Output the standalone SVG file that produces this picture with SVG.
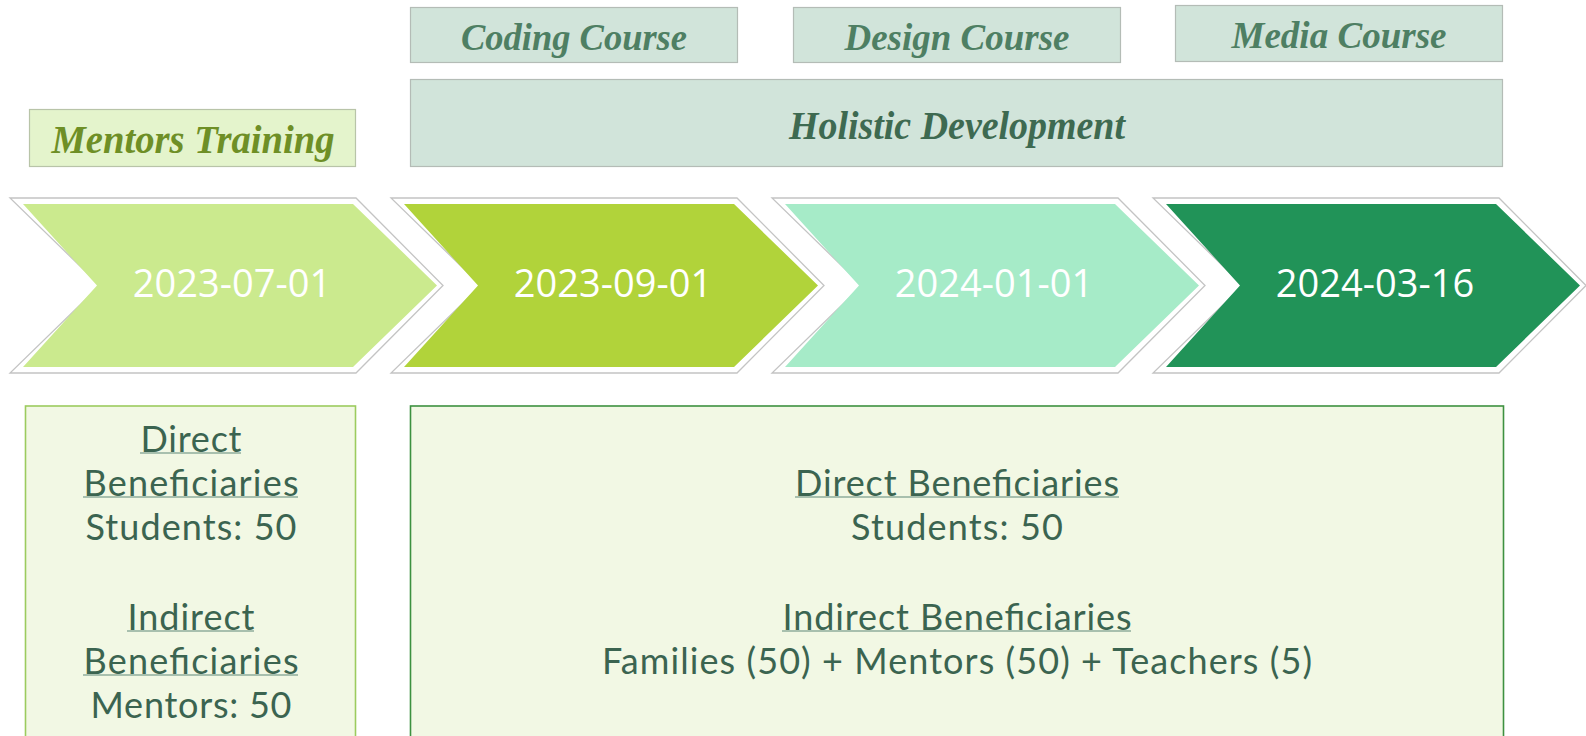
<svg xmlns="http://www.w3.org/2000/svg" width="1586" height="736" viewBox="0 0 1586 736">
<style>
.hdr{fill:#d1e4da;stroke:#b4bcb6;stroke-width:1.2}
.scr{font-family:'Liberation Serif',serif;font-style:italic;font-weight:bold;text-anchor:middle}
.outer{fill:#ffffff;stroke:#c4c4c4;stroke-width:1.3}
.date{font-family:'Open Sans','Noto Sans',sans-serif;font-size:38px;fill:#ffffff;text-anchor:middle}
.body{font-family:Lato,'Open Sans',sans-serif;font-size:36px;fill:#3b6450;text-anchor:middle}
.ul{stroke:#8fae9c;stroke-width:1.3}
</style>
<rect width="1586" height="736" fill="#ffffff"/>
<g id="coding-course">
<rect class="hdr" x="410.5" y="7.5" width="327" height="55"/>
<text class="scr" x="574" y="50" font-size="38" fill="#4e7f63" textLength="226" lengthAdjust="spacingAndGlyphs">Coding Course</text>
</g>
<g id="design-course">
<rect class="hdr" x="793.5" y="7.5" width="327" height="55"/>
<text class="scr" x="957" y="50" font-size="38" fill="#4e7f63" textLength="225" lengthAdjust="spacingAndGlyphs">Design Course</text>
</g>
<g id="media-course">
<rect class="hdr" x="1175.5" y="5.5" width="327" height="56"/>
<text class="scr" x="1339" y="48" font-size="38" fill="#4e7f63" textLength="215" lengthAdjust="spacingAndGlyphs">Media Course</text>
</g>
<g id="holistic-development">
<rect class="hdr" x="410.5" y="79.5" width="1092" height="87"/>
<text class="scr" x="957" y="139" font-size="40" fill="#3e6a51" textLength="336" lengthAdjust="spacingAndGlyphs">Holistic Development</text>
</g>
<g id="mentors-training">
<rect x="29.5" y="109.5" width="326" height="57" fill="#e4f4cc" stroke="#b8c4a8" stroke-width="1.2"/>
<text class="scr" x="193" y="153" font-size="40" fill="#6e8f26" textLength="283" lengthAdjust="spacingAndGlyphs">Mentors Training</text>
</g>
<g id="chevron-1">
<polygon class="outer" points="10,198 356,198 443,285.5 356,373 10,373 100,285.5"/>
<polygon fill="#cbea8e" points="23,204 353,204 437,285.5 353,367 23,367 97,285.5"/>
<text class="date" x="232" y="297">2023-07-01</text>
</g>
<g id="chevron-2">
<polygon class="outer" points="391,198 737,198 824,285.5 737,373 391,373 481,285.5"/>
<polygon fill="#b1d33a" points="404,204 734,204 818,285.5 734,367 404,367 478,285.5"/>
<text class="date" x="613" y="297">2023-09-01</text>
</g>
<g id="chevron-3">
<polygon class="outer" points="772,198 1118,198 1205,285.5 1118,373 772,373 862,285.5"/>
<polygon fill="#a6ebc8" points="785,204 1115,204 1199,285.5 1115,367 785,367 859,285.5"/>
<text class="date" x="994" y="297">2024-01-01</text>
</g>
<g id="chevron-4">
<polygon class="outer" points="1153,198 1499,198 1586,285.5 1499,373 1153,373 1243,285.5"/>
<polygon fill="#219358" points="1166,204 1496,204 1580,285.5 1496,367 1166,367 1240,285.5"/>
<text class="date" x="1375" y="297">2024-03-16</text>
</g>
<g id="beneficiaries-mentors-training">
<rect x="25.5" y="406" width="330" height="340" fill="#f2f8e4" stroke="#9ccb5e" stroke-width="1.6"/>
<text class="body" x="191" y="452" textLength="101">Direct</text>
<text class="body" x="191" y="496" textLength="215">Beneficiaries</text>
<text class="body" x="191" y="540" textLength="211">Students: 50</text>
<text class="body" x="191" y="630" textLength="127">Indirect</text>
<text class="body" x="191" y="674" textLength="215">Beneficiaries</text>
<text class="body" x="191" y="718" textLength="201">Mentors: 50</text>
<line class="ul" x1="140" y1="453" x2="241" y2="453"/>
<line class="ul" x1="83" y1="497" x2="298" y2="497"/>
<line class="ul" x1="127" y1="631" x2="254" y2="631"/>
<line class="ul" x1="83" y1="675" x2="298" y2="675"/>
</g>
<g id="beneficiaries-holistic">
<rect x="410.5" y="406" width="1093" height="340" fill="#f2f8e4" stroke="#3d9140" stroke-width="1.6"/>
<text class="body" x="957" y="496" textLength="324">Direct Beneficiaries</text>
<text class="body" x="957" y="540" textLength="212">Students: 50</text>
<text class="body" x="957" y="630" textLength="349">Indirect Beneficiaries</text>
<text class="body" x="957" y="674" textLength="710">Families (50) + Mentors (50) + Teachers (5)</text>
<line class="ul" x1="795" y1="497" x2="1119" y2="497"/>
<line class="ul" x1="782" y1="631" x2="1131" y2="631"/>
</g>
<g id="connectors"></g>
</svg>
